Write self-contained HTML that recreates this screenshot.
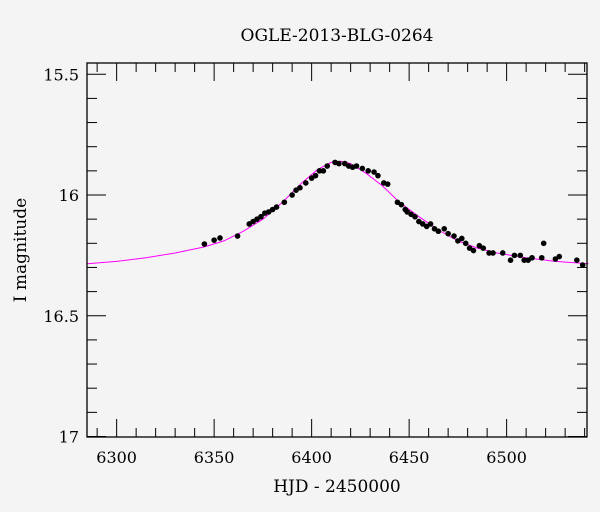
<!DOCTYPE html>
<html><head><meta charset="utf-8"><style>
html,body{margin:0;padding:0;background:#f4f4f4;}
svg{display:block;font-family:"DejaVu Serif","Liberation Serif",serif;}
</style></head><body>
<svg id="chart" width="600" height="512" viewBox="0 0 600 512" xmlns="http://www.w3.org/2000/svg">
<rect width="600" height="512" fill="#f4f4f4"/>
<text x="337" y="41" text-anchor="middle" font-size="17">OGLE-2013-BLG-0264</text>
<text x="337" y="492" text-anchor="middle" font-size="17">HJD - 2450000</text>
<text transform="translate(26,250) rotate(-90)" text-anchor="middle" font-size="17">I magnitude</text>
<g id="ticks"></g>
<g id="curve"></g>
<g id="points"></g>
<rect x="87" y="63" width="500" height="374" fill="none" stroke="#000" stroke-width="1.3"/>
</svg>
<script>
const xTicks = [6300, 6350, 6400, 6450, 6500];
const yTicks = [15.5, 16, 16.5, 17];
const yTickLabels = ["15.5", "16", "16.5", "17"];
const modelT = [6285,6300,6315,6330,6345,6355,6365,6375,6385,6395,6403,6410,6415,6420,6428,6436,6445,6455,6465,6475,6485,6495,6510,6525,6542];
const modelMag = [16.285,16.275,16.26,16.24,16.215,16.19,16.15,16.10,16.03,15.95,15.895,15.865,15.86,15.87,15.91,15.96,16.03,16.09,16.145,16.19,16.22,16.24,16.26,16.275,16.285];
const obsT = [6345,6350,6353,6362,6368,6370,6372,6374,6376,6378,6380,6382,6386,6390,6392,6394,6397,6400,6402,6404,6406,6408,6412,6414,6417,6419,6421,6423,6426,6429,6432,6434,6437,6439,6444,6446,6448,6449,6451,6453,6455,6457,6459,6461,6463,6465,6468,6470,6473,6475,6477,6479,6481,6483,6486,6488,6491,6493,6498,6502,6504,6507,6509,6511,6513,6518,6519,6525,6527,6536,6539];
const obsMag = [16.203,16.187,16.178,16.17,16.12,16.11,16.10,16.09,16.075,16.07,16.06,16.05,16.03,16.0,15.98,15.97,15.95,15.93,15.92,15.9,15.9,15.88,15.865,15.87,15.87,15.88,15.885,15.88,15.89,15.9,15.905,15.92,15.95,15.955,16.03,16.04,16.06,16.07,16.08,16.09,16.11,16.12,16.13,16.12,16.14,16.15,16.14,16.16,16.17,16.19,16.18,16.2,16.22,16.23,16.21,16.22,16.24,16.24,16.24,16.27,16.25,16.25,16.27,16.27,16.26,16.26,16.2,16.265,16.255,16.27,16.29];

const L=87,R=587,T=63,B=437;
const xMin=6284.8, xPerUnit=1.95;
const X = t => L + (t - xMin) * xPerUnit;
const Y = m => 195 + (m - 16) * 241.5;
const NS="http://www.w3.org/2000/svg";
function mk(tag, attrs, parent){const e=document.createElementNS(NS,tag);for(const k in attrs)e.setAttribute(k,attrs[k]);parent.appendChild(e);return e;}
const tg=document.getElementById('ticks');
for(let t=6290;t<=6540;t+=10){
  const major = t%50===0; const len = major?18:9; const x=X(t);
  const a=mk('line',{x1:x,x2:x,y1:B,y2:B-len,stroke:'#000','stroke-width':1},tg);
  
  
  const b=mk('line',{x1:x,x2:x,y1:T,y2:T+len,stroke:'#000','stroke-width':1},tg);
  
  
}
xTicks.forEach(t=>{
  const tx=mk('text',{x:X(t),y:463,'text-anchor':'middle','font-size':16},tg);
  tx.textContent=String(t);
  
  
});
for(let i=155;i<=170;i++){
  const m=i/10; const y=Y(m), r=i%5===0?19:10;
  const a=mk('line',{x1:L,x2:L+r,y1:y,y2:y,stroke:'#000','stroke-width':1},tg);
  
  
  const b=mk('line',{x1:R,x2:R-r,y1:y,y2:y,stroke:'#000','stroke-width':1},tg);
  
  
}
yTicks.forEach((m,i)=>{
  const tx=mk('text',{x:79,y:Y(m)+6,'text-anchor':'end','font-size':16},tg);
  tx.textContent=yTickLabels[i];
  
  
});
const cg=document.getElementById('curve');
const d=modelT.map((t,i)=>(i?'L':'M')+X(t).toFixed(1)+','+Y(modelMag[i]).toFixed(1)).join(' ');
const path=mk('path',{d:d,fill:'none',stroke:'#ff00ff','stroke-width':1},cg);


const pg=document.getElementById('points');
obsT.forEach((t,i)=>{
  const c=mk('circle',{cx:X(t),cy:Y(obsMag[i]),r:2.8,fill:'#000'},pg);
  
  
});
</script>
</body></html>
